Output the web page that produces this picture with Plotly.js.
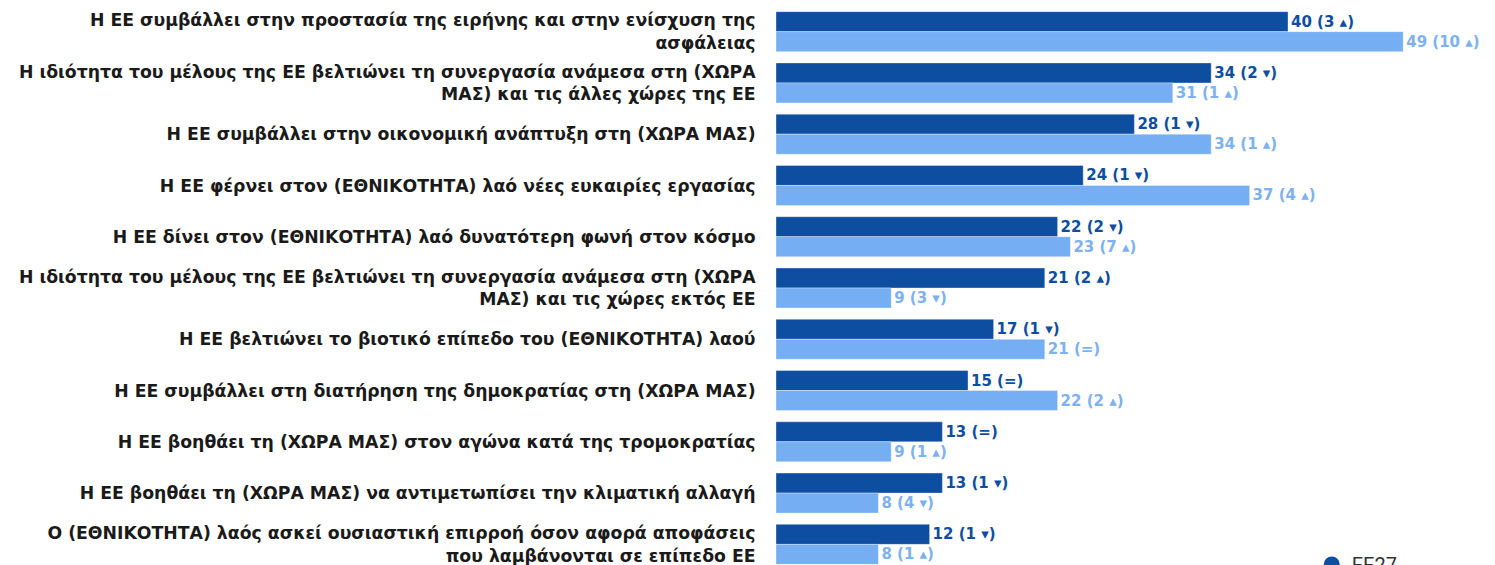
<!DOCTYPE html>
<html>
<head>
<meta charset="utf-8">
<script src="https://cdn.plot.ly/plotly-3.0.1.min.js"></script>
<style>
html,body{margin:0;padding:0;overflow:hidden;background:#fff;}
#chart{width:1495px;height:640px;}
</style>
</head>
<body>
<div id="chart"></div>
<script>
const categories = [
  "Η ΕΕ συμβάλλει στην προστασία της ειρήνης και στην ενίσχυση της<br>ασφάλειας",
  "Η ιδιότητα του μέλους της ΕΕ βελτιώνει τη συνεργασία ανάμεσα στη (ΧΩΡΑ<br>ΜΑΣ) και τις άλλες χώρες της ΕΕ",
  "Η ΕΕ συμβάλλει στην οικονομική ανάπτυξη στη (ΧΩΡΑ ΜΑΣ)",
  "Η ΕΕ φέρνει στον (ΕΘΝΙΚΟΤΗΤΑ) λαό νέες ευκαιρίες εργασίας",
  "Η ΕΕ δίνει στον (ΕΘΝΙΚΟΤΗΤΑ) λαό δυνατότερη φωνή στον κόσμο",
  "Η ιδιότητα του μέλους της ΕΕ βελτιώνει τη συνεργασία ανάμεσα στη (ΧΩΡΑ<br>ΜΑΣ) και τις χώρες εκτός ΕΕ",
  "Η ΕΕ βελτιώνει το βιοτικό επίπεδο του (ΕΘΝΙΚΟΤΗΤΑ) λαού",
  "Η ΕΕ συμβάλλει στη διατήρηση της δημοκρατίας στη (ΧΩΡΑ ΜΑΣ)",
  "Η ΕΕ βοηθάει τη (ΧΩΡΑ ΜΑΣ) στον αγώνα κατά της τρομοκρατίας",
  "Η ΕΕ βοηθάει τη (ΧΩΡΑ ΜΑΣ) να αντιμετωπίσει την κλιματική αλλαγή",
  "Ο (ΕΘΝΙΚΟΤΗΤΑ) λαός ασκεί ουσιαστική επιρροή όσον αφορά αποφάσεις<br>που λαμβάνονται σε επίπεδο ΕΕ"
];

const eu27Values  = [40, 34, 28, 24, 22, 21, 17, 15, 13, 13, 12];
const eu27Change  = [3, 2, 1, 1, 2, 2, 1, 0, 0, 1, 1];
const eu27Dir     = ["up","down","down","down","down","up","down","=","=","down","down"];

const countryValues = [49, 31, 34, 37, 23, 9, 21, 22, 9, 8, 8];
const countryChange = [10, 1, 1, 4, 7, 3, 0, 2, 1, 4, 1];
const countryDir    = ["up","up","up","up","up","down","=","up","up","down","up"];

const seriesNames = ["EE27", "EL"];
const darkBlue = "#0D4EA1";
const lightBlue = "#76AEF3";
const lightText = "#7DB1F0";

function makeLabels(vals, ch, dir) {
  return vals.map((v, i) => {
    if (dir[i] === "=") return v + " (=)";
    const arrow = dir[i] === "up" ? "▴" : "▾";
    return v + " (" + ch[i] + " " + arrow + ")";
  });
}

const labelFont = "'DejaVu Sans', sans-serif";

const traces = [
  {
    type: "bar", orientation: "h", name: seriesNames[0],
    y: categories, x: eu27Values,
    text: makeLabels(eu27Values, eu27Change, eu27Dir),
    textposition: "outside", cliponaxis: false, constraintext: "none",
    textfont: {family: labelFont, size: 15, color: darkBlue, weight: 700},
    marker: {color: darkBlue, line: {color: "rgba(255,255,255,0.35)", width: 1}},
    showlegend: false, hoverinfo: "skip"
  },
  {
    type: "bar", orientation: "h", name: seriesNames[1],
    y: categories, x: countryValues,
    text: makeLabels(countryValues, countryChange, countryDir),
    textposition: "outside", cliponaxis: false, constraintext: "none",
    textfont: {family: labelFont, size: 15, color: lightText, weight: 700},
    marker: {color: lightBlue, line: {color: "rgba(255,255,255,0.35)", width: 1}},
    showlegend: false, hoverinfo: "skip"
  },
  {
    type: "scatter", mode: "markers", name: seriesNames[0],
    x: [null], y: [null],
    marker: {color: darkBlue, size: 17, symbol: "circle"}
  },
  {
    type: "scatter", mode: "markers", name: seriesNames[1],
    x: [null], y: [null],
    marker: {color: lightBlue, size: 17, symbol: "circle"}
  }
];

const layout = {
  width: 1495, height: 640,
  margin: {l: 776, r: 15, t: 6, b: 70},
  barmode: "group", bargap: 0.22, bargroupgap: 0,
  paper_bgcolor: "#fff", plot_bgcolor: "#fff",
  showlegend: true,
  legend: {
    x: 0.761, xanchor: "left", y: 0.0443, yanchor: "top",
    orientation: "v", bgcolor: "rgba(0,0,0,0)",
    font: {family: "Roboto, sans-serif", size: 20, color: "#333"},
    itemsizing: "trace"
  },
  xaxis: {range: [0, 55], showgrid: false, zeroline: false, showticklabels: false, showline: false, fixedrange: true},
  yaxis: {
    type: "category", autorange: "reversed", showgrid: false, zeroline: false, showline: false,
    ticks: "outside", ticklen: 16, tickcolor: "rgba(0,0,0,0)", automargin: false,
    tickfont: {family: "'DejaVu Sans', sans-serif", size: 17.3, color: "#1a1a1a", weight: 700}
  }
};

Plotly.newPlot("chart", traces, layout, {displayModeBar: false, staticPlot: true});
</script>
</body>
</html>
